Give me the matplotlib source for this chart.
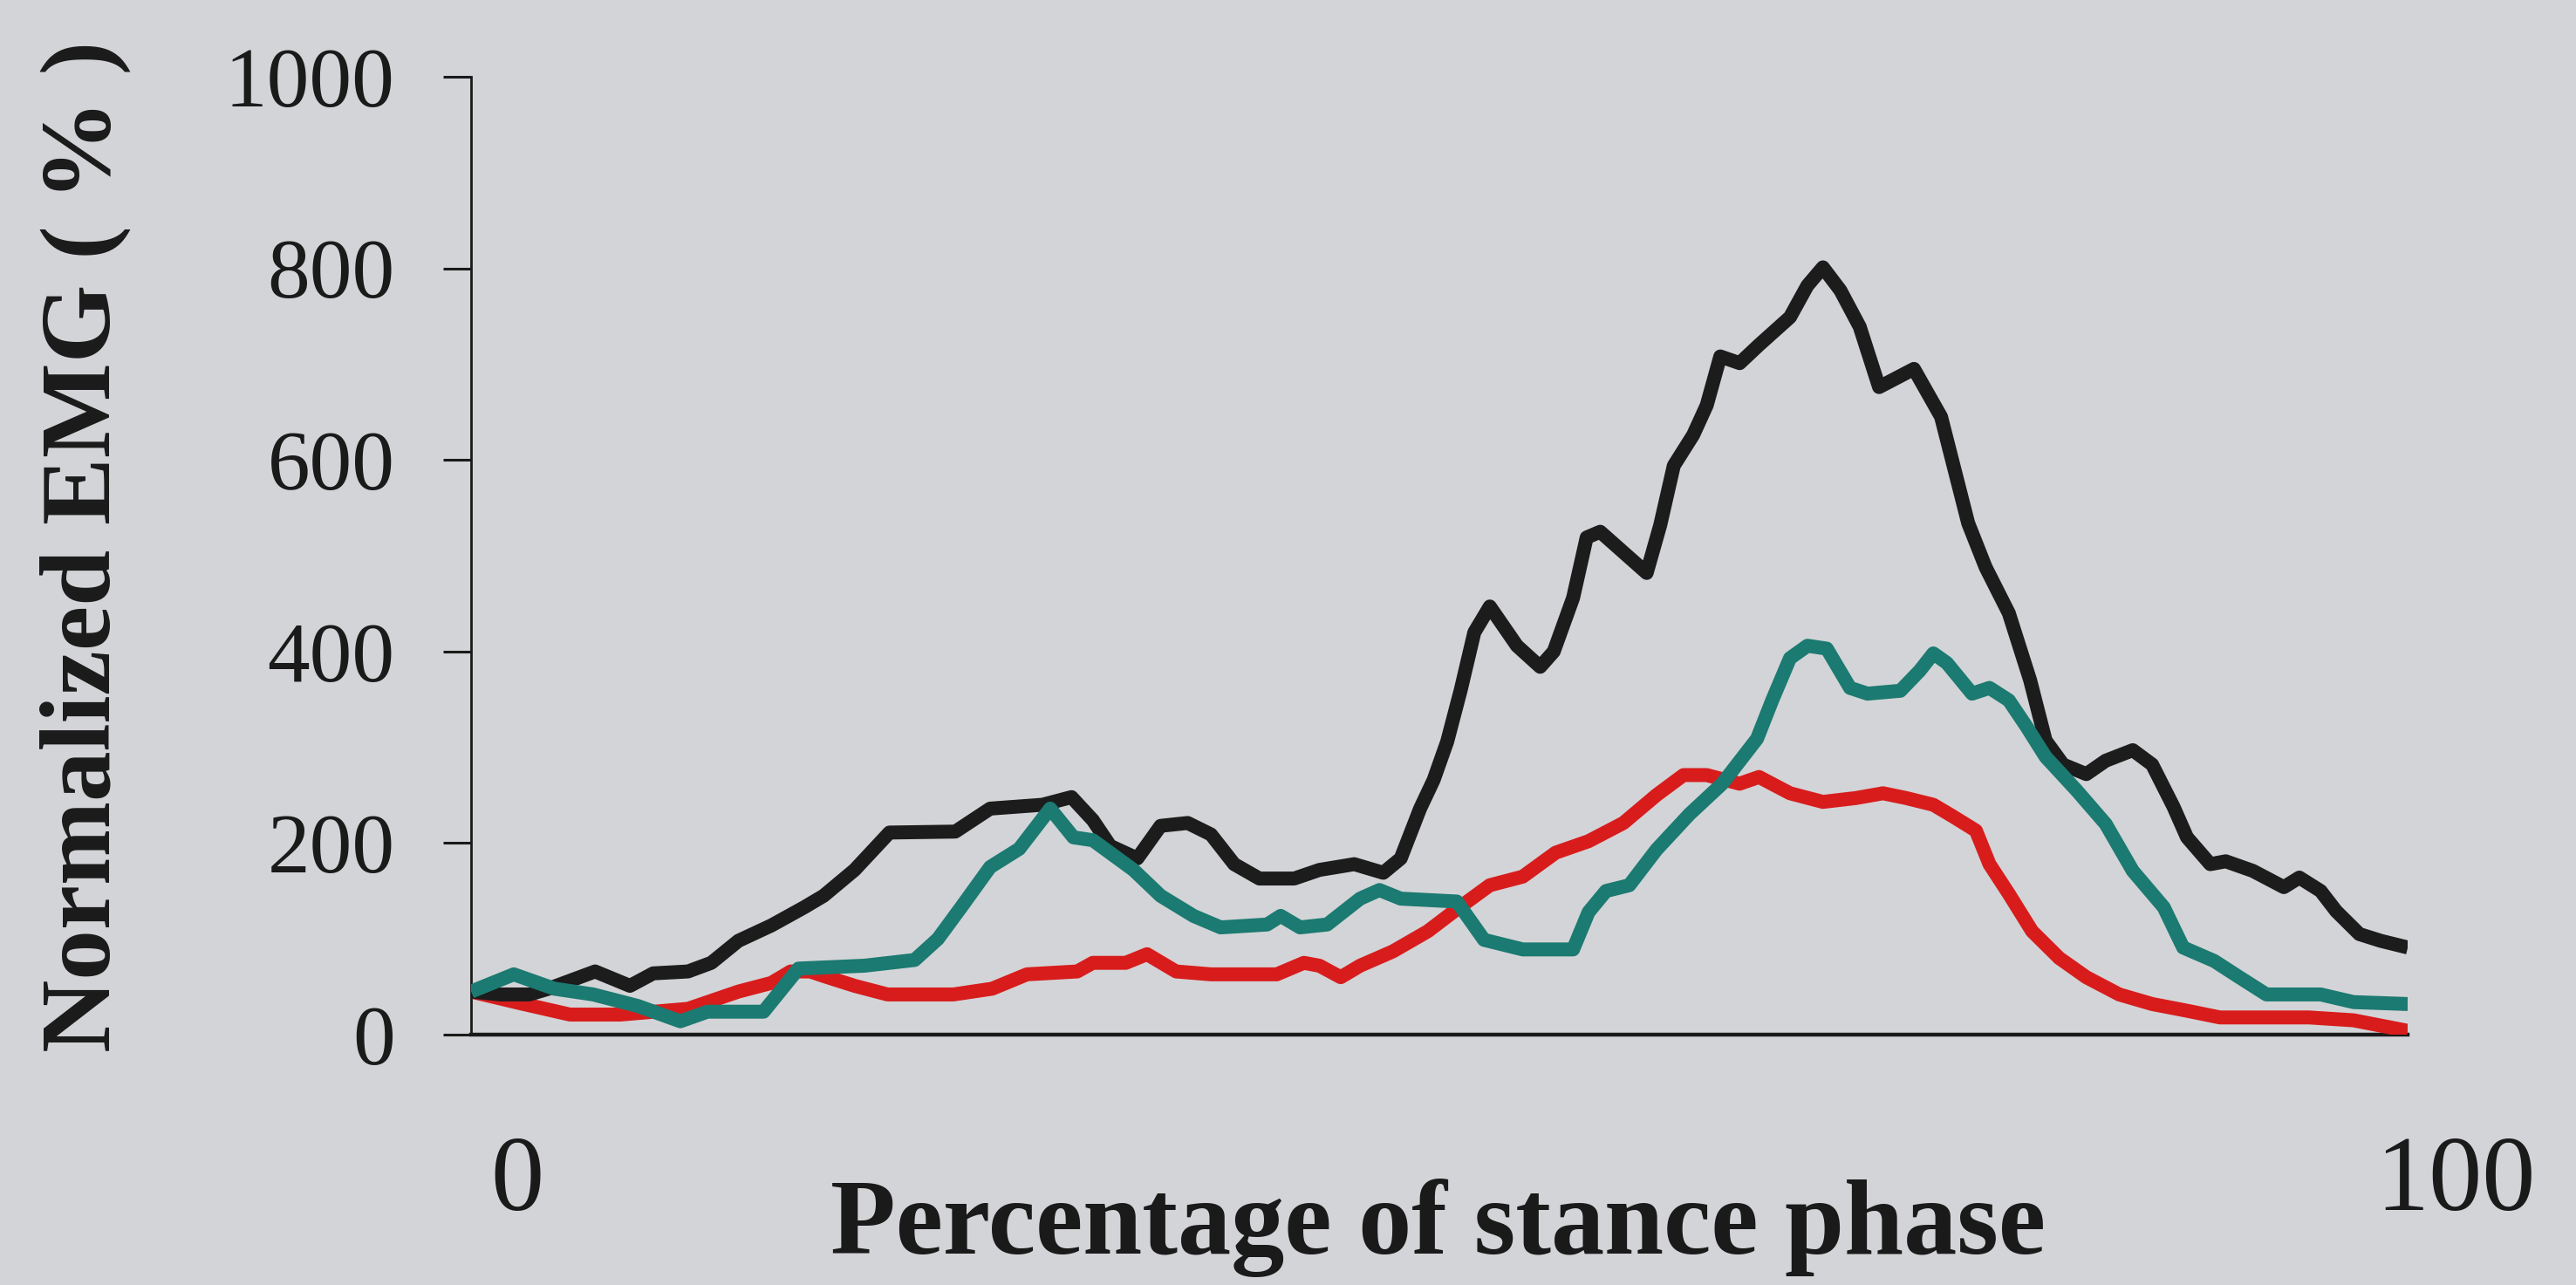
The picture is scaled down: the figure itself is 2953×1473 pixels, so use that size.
import matplotlib
matplotlib.use("Agg")
import matplotlib.pyplot as plt

plt.rcParams['font.family'] = ['Liberation Serif', 'DejaVu Serif']

# --- DATA ---
black_x = [0, 1.5, 3, 4, 4.8, 6.4, 8.2, 9.4, 11.2, 12.4, 13.8, 15.5, 17.2, 18.2, 19.8,
           21.6, 25.0, 26.8, 29.5, 31.0, 32.1, 33.0, 34.4, 35.6, 37.0, 38.2, 39.4, 40.7,
           42.5, 43.8, 45.6, 47.1, 48.0, 49.0, 49.7, 50.4, 51.1, 51.8, 52.6, 54.0, 55.2,
           55.9, 56.9, 57.6, 58.3, 60.7, 61.4, 62.1, 63.1, 63.8, 64.5, 65.5, 66.5, 68.1,
           69.0, 69.8, 70.7, 71.7, 72.7, 74.5, 75.9, 77.3, 78.2, 79.4, 80.5, 81.3, 82.2,
           83.4, 84.4, 85.8, 86.8, 87.9, 88.6, 89.8, 90.6, 92.0, 93.6, 94.4, 95.5, 96.3,
           97.5, 98.6, 100]
black_y = [45, 42, 42, 48, 54, 66, 51, 64, 66, 75, 98, 114, 133, 145, 172,
           211, 212, 236, 240, 248, 224, 197, 184, 218, 221, 209, 178, 163,
           163, 172, 178, 169, 184, 236, 266, 306, 360, 420, 447, 406, 384,
           400, 456, 519, 525, 482, 532, 594, 626, 657, 708, 701, 720, 749,
           782, 801, 777, 739, 676, 695, 645, 534, 488, 440, 370, 307, 282,
           272, 286, 297, 282, 238, 206, 178, 181, 171, 154, 164, 150, 129,
           105, 98, 91]

red_x = [0, 2.5, 5.1, 7.7, 11.2, 13.8, 15.5, 16.5, 17.5, 18.4, 19.8, 21.5, 24.9, 26.9,
         28.7, 31.3, 32.1, 33.8, 34.9, 36.4, 38.2, 41.6, 43.0, 43.8, 44.9, 45.9, 47.6,
         49.4, 50.7, 52.6, 54.3, 56.0, 57.7, 59.5, 61.2, 62.6, 63.8, 65.5, 66.5, 68.1,
         69.8, 71.5, 72.9, 74.1, 75.5, 76.5, 77.7, 78.4, 79.4, 80.6, 82.0, 83.4, 85.1,
         86.8, 88.6, 90.3, 94.9, 97.2, 100]
red_y = [45, 33, 21, 21, 27, 45, 54, 66, 66, 60, 51, 42, 42, 48,
         63, 66, 75, 75, 84, 66, 63, 63, 75, 72, 60, 72, 87,
         108, 128, 156, 165, 190, 202, 221, 250, 271, 271, 262, 269, 252,
         243, 247, 252, 247, 240, 228, 213, 178, 147, 108, 80, 60, 42,
         32, 25, 18, 18, 15, 4]

teal_x = [0, 2.2, 4.3, 6.3, 8.6, 10.8, 12.2, 15.1, 16.9, 20.3, 22.9, 24.1, 25.3, 26.8,
          28.3, 29.9, 31.1, 32.1, 34.2, 35.6, 37.3, 38.7, 41.1, 41.8, 42.8, 44.2, 45.9,
          46.9, 48.0, 50.9, 52.3, 54.3, 56.9, 57.7, 58.6, 59.8, 61.2, 62.9, 64.6, 66.4,
          67.2, 68.1, 69.0, 70.0, 71.2, 72.1, 73.8, 74.8, 75.5, 76.2, 77.5, 78.4, 79.4,
          80.3, 81.3, 82.9, 84.4, 85.8, 87.4, 88.4, 90.0, 91.3, 92.7, 95.5, 97.2, 100]
teal_y = [45, 63, 48, 42, 30, 14, 24, 24, 69, 72, 78, 100, 133, 175,
          194, 236, 206, 203, 172, 145, 124, 112, 115, 124, 112, 115, 142,
          151, 142, 139, 99, 89, 89, 128, 150, 156, 193, 230, 262, 309,
          350, 393, 406, 403, 362, 356, 359, 380, 398, 388, 356, 362, 349,
          322, 290, 255, 220, 171, 133, 91, 77, 60, 42, 42, 34, 32]

y_ticks = [0, 200, 400, 600, 800, 1000]
x_end_labels = ['0', '100']

# --- FIGURE ---
bg = '#d3d4d7'
ink = '#1a1a1a'
fig = plt.figure(figsize=(29.53, 14.73), dpi=100, facecolor=bg)
ax = fig.add_axes([0.1829, 0.1948, 0.9347 - 0.1829, 0.9403 - 0.1948])
ax.set_facecolor(bg)

kw = dict(linewidth=11.5, solid_joinstyle='round', solid_capstyle='butt')
ax.plot(red_x, red_y, color='#d81c1c', zorder=3, **kw)
ax.plot(black_x, black_y, color='#1c1c1c', zorder=4, **kw)
ax.plot(teal_x, teal_y, color='#1b7a71', zorder=5, **kw)

ax.set_xlim(0, 100)
ax.set_ylim(0, 1000)
ax.set_yticks(y_ticks)
ax.set_xticks([])
for s in ['top', 'right']:
    ax.spines[s].set_visible(False)
ax.spines['left'].set_linewidth(2.0)
ax.spines['bottom'].set_linewidth(3.2)
ax.spines['left'].set_color(ink)
ax.spines['bottom'].set_color(ink)
ax.tick_params(axis='y', direction='out', length=23, width=2.2, color=ink,
               pad=40, labelsize=70, labelcolor=ink)

# end labels of the x axis and the axis titles
fig.text(593 / 2953, 1 - 1357 / 1473, x_end_labels[0], ha='center', va='center',
         fontsize=88, color=ink)
fig.text(2815 / 2953, 1 - 1357 / 1473, x_end_labels[1], ha='center', va='center',
         fontsize=88, color=ink)
fig.text(1648 / 2953, 1 - 1437 / 1473, 'Percentage of stance phase', ha='center',
         va='baseline', fontsize=88, fontweight='bold', color=ink)
fig.text(98 / 2953, 1 - 626 / 1473, 'Normalized EMG ( % )', ha='center', va='center',
         rotation=90, fontsize=83, fontweight='bold', color=ink)

fig.savefig('out.png', dpi=100, facecolor=bg)
